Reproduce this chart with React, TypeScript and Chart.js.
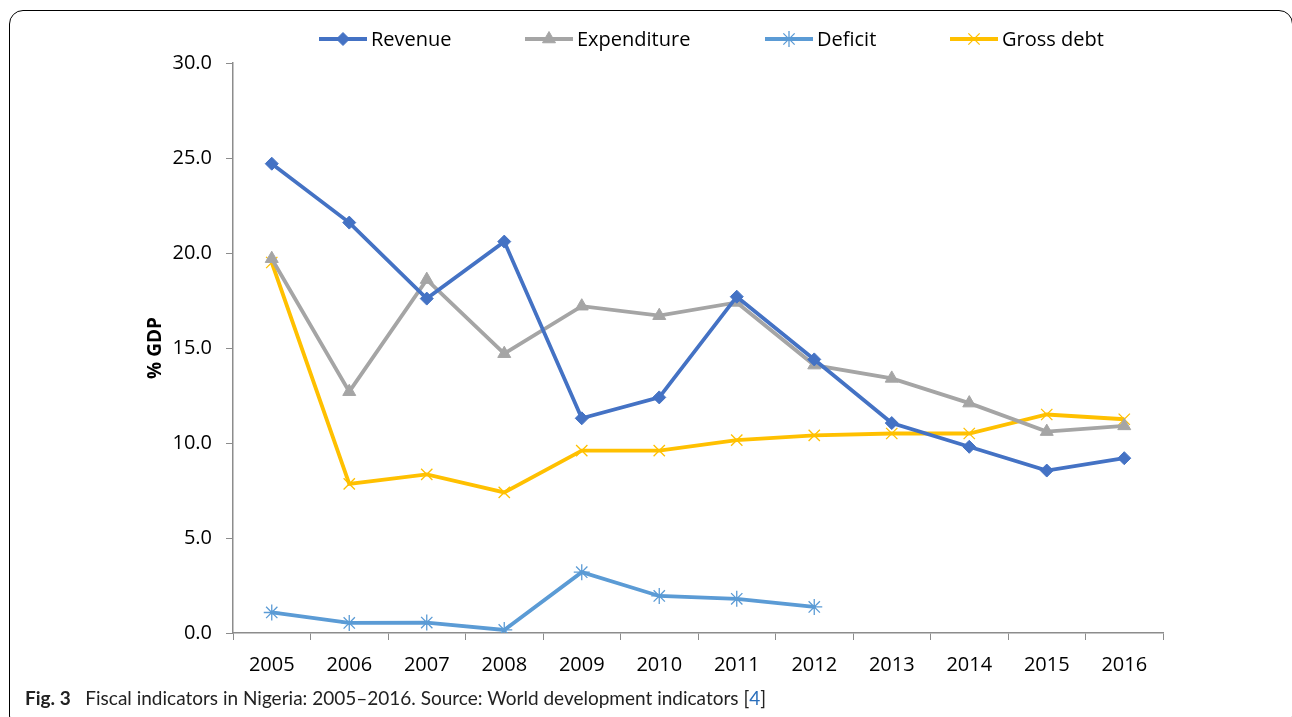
import React, { useEffect, useRef } from "react";
import { Chart, registerables } from "chart.js";
import { drawPoint } from "chart.js/helpers";

Chart.register(...registerables);

const years = ["2005", "2006", "2007", "2008", "2009", "2010", "2011", "2012", "2013", "2014", "2015", "2016"];
const revenue = [24.7, 21.6, 17.6, 20.6, 11.3, 12.4, 17.7, 14.4, 11.05, 9.8, 8.55, 9.2];
const expenditure = [19.7, 12.7, 18.6, 14.7, 17.2, 16.7, 17.4, 14.1, 13.4, 12.1, 10.6, 10.9];
const deficit = [1.08, 0.53, 0.55, 0.16, 3.2, 1.95, 1.8, 1.37, null, null, null, null];
const grossDebt = [19.5, 7.85, 8.35, 7.4, 9.6, 9.6, 10.15, 10.4, 10.5, 10.5, 11.5, 11.25];
const yTicks = [0, 5, 10, 15, 20, 25, 30];

const legendItems = [
  { label: "Revenue", x: 319, ds: 0 },
  { label: "Expenditure", x: 525, ds: 1 },
  { label: "Deficit", x: 765, ds: 2 },
  { label: "Gross debt", x: 950, ds: 3 },
];

const legendPlugin = {
  id: "customLegend",
  afterDraw(chart: any) {
    const ctx = chart.ctx;
    const y = 39;
    ctx.save();
    legendItems.forEach((it) => {
      const ds = chart.data.datasets[it.ds];
      ctx.strokeStyle = ds.borderColor;
      ctx.lineWidth = 3.8;
      ctx.beginPath();
      ctx.moveTo(it.x, y);
      ctx.lineTo(it.x + 48, y);
      ctx.stroke();
      ctx.fillStyle = ds.borderColor;
      ctx.strokeStyle = ds.borderColor;
      ctx.lineWidth = ds.pointBorderWidth;
      drawPoint(
        ctx,
        {
          pointStyle: ds.pointStyle,
          radius: ds.pointRadius,
          borderWidth: ds.pointBorderWidth,
          rotation: 0,
        } as any,
        it.x + 24,
        y
      );
      ctx.fillStyle = "#000";
      ctx.font = "20px 'Open Sans', sans-serif";
      ctx.textAlign = "left";
      ctx.textBaseline = "middle";
      ctx.fillText(it.label, it.x + 52, y + 1);
    });
    ctx.restore();
  },
};

function mk(label: string, data: any[], color: string, style: string, radius: number, bw: number) {
  return {
    label,
    data,
    borderColor: color,
    backgroundColor: color,
    pointBackgroundColor: color,
    pointBorderColor: color,
    borderWidth: 3.8,
    pointStyle: style,
    pointRadius: radius,
    pointHoverRadius: radius,
    pointBorderWidth: bw,
    tension: 0,
    spanGaps: false,
  };
}

export default function App() {
  const ref = useRef<HTMLCanvasElement>(null);
  useEffect(() => {
    document.body.style.margin = "0";
    const chart = new Chart(ref.current!, {
      type: "line",
      data: {
        labels: years,
        datasets: [
          mk("Revenue", revenue, "#4472C4", "rectRot", 6.5, 1),
          mk("Expenditure", expenditure, "#A5A5A5", "triangle", 7.5, 1),
          mk("Deficit", deficit, "#5B9BD5", "star", 8, 1.3),
          mk("Gross debt", grossDebt, "#FFC000", "crossRot", 8, 1.3),
        ] as any,
      },
      options: {
        animation: false,
        responsive: false,
        maintainAspectRatio: false,
        layout: { padding: { left: 140, right: 129, top: 63, bottom: 0 } },
        plugins: {
          legend: { display: false },
          tooltip: { enabled: false },
        },
        scales: {
          x: {
            type: "category",
            offset: true,
            grid: {
              offset: true,
              drawOnChartArea: false,
              drawTicks: true,
              tickLength: 7,
              color: "#8c8c8c",
            },
            border: { display: true, color: "#8c8c8c", width: 1.5 },
            ticks: {
              color: "#000",
              padding: 13,
              font: { family: "'Open Sans', sans-serif", size: 20 },
              maxRotation: 0,
            },
            afterFit(scale: any) {
              scale.height = 57;
            },
          },
          y: {
            min: 0,
            max: 30,
            afterBuildTicks(scale: any) {
              scale.ticks = yTicks.map((v) => ({ value: v }));
            },
            grid: {
              drawOnChartArea: false,
              drawTicks: true,
              tickLength: 7,
              color: "#8c8c8c",
            },
            border: { display: true, color: "#8c8c8c", width: 1.5 },
            ticks: {
              color: "#000",
              padding: 14,
              font: { family: "'Open Sans', sans-serif", size: 20 },
              callback: (v: any) => Number(v).toFixed(1),
            },
            title: {
              display: true,
              text: "% GDP",
              color: "#000",
              font: { family: "'Open Sans', sans-serif", size: 19, weight: "bold" },
              padding: { top: 4, bottom: 0 },
            },
            afterFit(scale: any) {
              scale.width = 93;
            },
          },
        },
      },
      plugins: [legendPlugin],
    });
    return () => chart.destroy();
  }, []);

  return (
    <div style={{ position: "absolute", left: 0, top: 0, width: 1292, height: 717, overflow: "hidden", background: "#fff" }}>
      <div
        style={{
          position: "absolute",
          left: 9,
          top: 10,
          width: 1284,
          height: 720,
          border: "1.5px solid #000",
          borderRadius: 14,
          boxSizing: "border-box",
        }}
      />
      <canvas ref={ref} width={1292} height={690} style={{ position: "absolute", left: 0, top: 0 }} />
      <div
        style={{
          position: "absolute",
          left: 25,
          top: 686,
          fontFamily: "Lato, 'Open Sans', sans-serif",
          fontSize: 19,
          color: "#222",
          whiteSpace: "nowrap",
        }}
      >
        <b>Fig. 3</b>&nbsp;&nbsp;&nbsp;Fiscal indicators in Nigeria: 2005–2016. Source: World development indicators [
        <span style={{ color: "#2a6ebb" }}>4</span>]
      </div>
    </div>
  );
}
